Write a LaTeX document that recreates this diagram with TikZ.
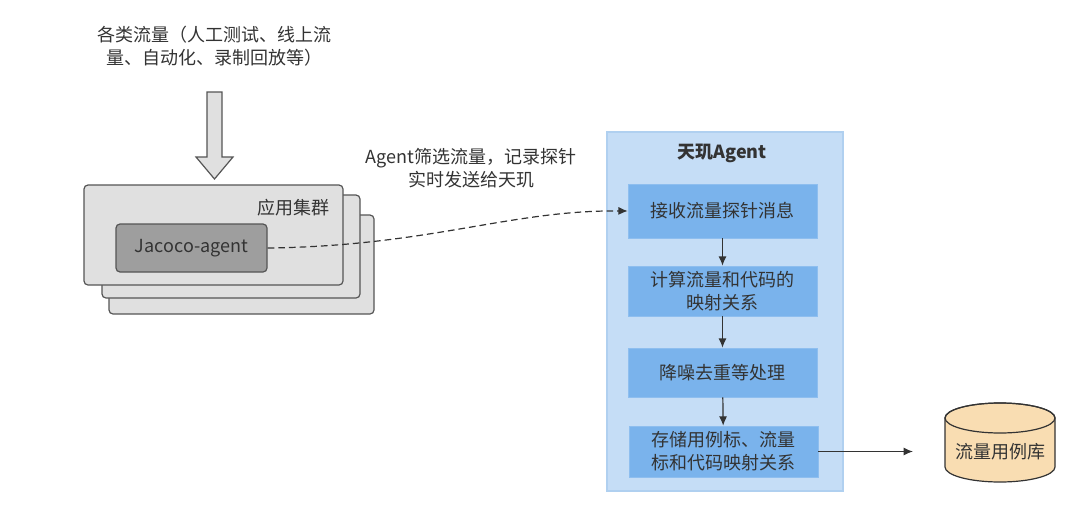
\documentclass[tikz,border=0pt]{standalone}
\usepackage{fontspec}
\setmainfont{Noto Sans CJK SC}
\usetikzlibrary{arrows.meta}
\definecolor{txt}{HTML}{333333}
\definecolor{edge}{HTML}{555555}
\definecolor{stackfill}{HTML}{E0E0E0}
\definecolor{agentfill}{HTML}{9E9E9E}
\definecolor{contfill}{HTML}{C5DDF6}
\definecolor{contedge}{HTML}{B0D0F0}
\definecolor{stepfill}{HTML}{7AB3EC}
\definecolor{dbfill}{HTML}{F9DDB2}
\begin{document}
\begin{tikzpicture}[x=0.75pt,y=-0.75pt,
  font=\fontsize{13.5}{17.25}\selectfont, text=txt,
  stackbox/.style={draw=edge, fill=stackfill, rounded corners=3pt, line width=0.9pt, inner sep=0pt},
  agentbox/.style={draw=edge, fill=agentfill, rounded corners=3pt, line width=0.9pt, inner sep=0pt},
  contbox/.style={draw=contedge, fill=contfill, line width=0.8pt, inner sep=0pt},
  stepbox/.style={draw=stepfill!85!white, fill=stepfill, inner sep=0pt, minimum width=141.75pt, align=center},
  flow/.style={draw=txt, line width=0.9pt, -{Latex[length=7pt,width=6pt]}},
]
\useasboundingbox (0,0) rectangle (1080,510);

% top text
\node[align=center] (src) at (214,46) {各类流量（人工测试、线上流\\量、自动化、录制回放等）};

% block arrow
\draw[draw=edge, fill=stackfill, line width=0.9pt]
  (207,92) -- (222,92) -- (222,157) -- (233,157) -- (214.5,179) -- (196,157) -- (207,157) -- cycle;
\coordinate (blk) at (214.5,179);

% stacked boxes
\node[stackbox, minimum width=198.75pt, minimum height=74.25pt] (s3) at (241.5,264.5) {};
\node[stackbox, minimum width=193.5pt, minimum height=77.25pt] (s2) at (231,246.5) {};
\node[stackbox, minimum width=194.25pt, minimum height=75pt] (s1) at (213.5,235) {};
\node (cluster) at (293,208) {应用集群};
\node[agentbox, minimum width=113.25pt, minimum height=36pt] (jac) at (191.5,248) {Jacoco-agent};

% label
\node[align=center] (lbl) at (471,168) {Agent筛选流量，记录探针\\实时发送给天玑};

% container
\node[contbox, minimum width=177pt, minimum height=269.25pt] (cont) at (725,311.5) {};
\node[font=\fontsize{13.5}{17.25}\selectfont\bfseries] (title) at (722,153) {天玑Agent};

\node[stepbox, minimum height=40.5pt] (b1) at (722.5,211) {接收流量探针消息};
\node[stepbox, minimum height=37.5pt] (b2) at (722.5,291) {计算流量和代码的\\映射关系};
\node[stepbox, minimum height=36.75pt] (b3) at (722.5,372.5) {降噪去重等处理};
\node[stepbox, minimum height=38.25pt] (b4) at (723.5,451.5) {存储用例标、流量\\标和代码映射关系};

\draw[flow] (b1) -- (b2);
\draw[flow] (b2) -- (b3);
\draw[flow] (b3) -- (b4);

% dashed connector
\draw[draw=txt, line width=0.9pt, dash pattern=on 5pt off 3pt, -{Latex[length=7pt,width=6pt]}]
  (jac.east) .. controls (430,246) and (510,210) .. (b1.west);

% database cylinder
\draw[draw=txt, fill=dbfill, line width=0.9pt]
  (945,418) -- (945,467) arc[start angle=180, end angle=360, x radius=41.25pt, y radius=11.25pt]
  -- (1055,418) arc[start angle=0, end angle=180, x radius=41.25pt, y radius=11.25pt] -- cycle;
\draw[draw=txt, line width=0.9pt] (1000,418) ellipse[x radius=41.25pt, y radius=11.25pt];
\node (db) at (1000,452) {流量用例库};
\coordinate (dbin) at (913,451.5);
\draw[flow] (b4.east) -- (dbin);

\end{tikzpicture}
\end{document}
